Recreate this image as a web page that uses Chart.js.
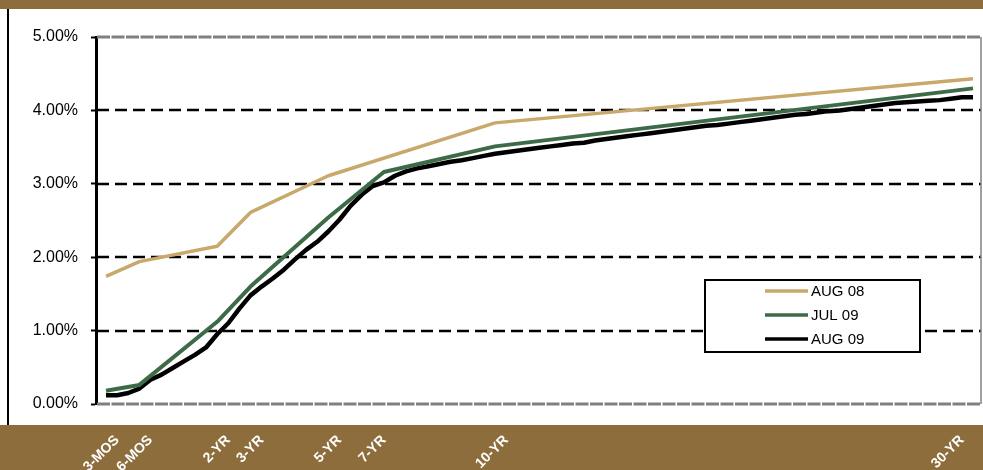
<!DOCTYPE html>
<html>
<head>
<meta charset="utf-8">
<script src="https://cdn.jsdelivr.net/npm/chart.js@4"></script>
<style>
  html, body { margin: 0; padding: 0; background: #fff; overflow: hidden; }
  #wrap { width: 983px; height: 470px; position: relative; }
</style>
</head>
<body>
<div id="wrap"><canvas id="curveChart"></canvas></div>
<script>
// Treasury yield curve, one slot per issue on the category axis
const tenorLabels = ['3-MOS', '6-MOS', '2-YR', '3-YR', '5-YR', '7-YR', '10-YR', '30-YR'];
const labelSlots = [1, 4, 11, 14, 21, 25, 36, 77];

const aug08Slots = [0, 3, 10, 13, 20, 35, 78];
const aug08 = [1.74, 1.94, 2.15, 2.61, 3.11, 3.83, 4.43];

const jul09Slots = [0, 3, 10, 13, 20, 25, 35, 78];
const jul09 = [0.18, 0.26, 1.12, 1.60, 2.54, 3.16, 3.51, 4.30];

// AUG 09 has a yield for every slot 0..78
const aug09 = [
  0.12, 0.12, 0.15, 0.21, 0.33, 0.40, 0.49, 0.58, 0.67, 0.77,
  0.95, 1.10, 1.30, 1.48, 1.60, 1.71, 1.83, 1.97, 2.10, 2.21,
  2.35, 2.51, 2.70, 2.85, 2.97, 3.02, 3.11, 3.17, 3.21, 3.24,
  3.27, 3.30, 3.32, 3.35, 3.38, 3.41, 3.43, 3.45, 3.47, 3.49,
  3.51, 3.53, 3.55, 3.56, 3.59, 3.61, 3.63, 3.65, 3.67, 3.69,
  3.71, 3.73, 3.75, 3.77, 3.79, 3.80, 3.82, 3.84, 3.86, 3.88,
  3.90, 3.92, 3.94, 3.95, 3.97, 3.99, 4.00, 4.02, 4.04, 4.06,
  4.08, 4.10, 4.11, 4.12, 4.13, 4.14, 4.16, 4.18, 4.18
];

const yTicks = [0, 1, 2, 3, 4, 5];

const BROWN = '#8c6d3b';
const TAN = '#c8a86b';
const GREEN = '#3d6b47';
const FONT = '"Liberation Sans", Arial, sans-serif';

function toPoints(slots, values) {
  return slots.map((s, i) => ({ x: s, y: values[i] }));
}

// brown bands, outer frame line, dashed grid
const framePlugin = {
  id: 'frame',
  beforeDraw(chart) {
    const ctx = chart.ctx;
    const { width, height } = chart;
    ctx.save();
    ctx.fillStyle = '#fff';
    ctx.fillRect(0, 0, width, height);
    ctx.fillStyle = BROWN;
    ctx.fillRect(0, 0, width, 9);
    ctx.fillRect(0, 425, width, height - 425);
    ctx.strokeStyle = '#000';
    ctx.lineWidth = 2;
    ctx.beginPath();
    ctx.moveTo(8, 9);
    ctx.lineTo(8, 425);
    ctx.stroke();
    ctx.restore();
  },
  beforeDatasetsDraw(chart) {
    const ctx = chart.ctx;
    const area = chart.chartArea;
    const y = chart.scales.y;
    ctx.save();
    y.ticks.forEach(t => {
      const py = Math.round(y.getPixelForValue(t.value));
      const edge = t.value === y.min || t.value === y.max;
      ctx.beginPath();
      ctx.lineWidth = edge ? 3 : 2.5;
      ctx.strokeStyle = edge ? '#808080' : '#000';
      ctx.setLineDash(edge ? [13, 1.5] : [12, 6]);
      ctx.moveTo(area.left + 1, py);
      ctx.lineTo(area.right, py);
      ctx.stroke();
    });
    ctx.setLineDash([]);
    ctx.strokeStyle = '#808080';
    ctx.lineWidth = 1.5;
    ctx.beginPath();
    ctx.moveTo(area.right, area.top);
    ctx.lineTo(area.right, area.bottom);
    ctx.stroke();
    ctx.restore();
  }
};

// boxed legend sitting inside the plot area
const boxLegendPlugin = {
  id: 'boxLegend',
  afterDatasetsDraw(chart) {
    const ctx = chart.ctx;
    const left = 705, top = 280, w = 215, h = 72;
    ctx.save();
    ctx.fillStyle = '#fff';
    ctx.fillRect(left, top, w, h);
    ctx.strokeStyle = '#000';
    ctx.lineWidth = 2;
    ctx.strokeRect(left, top, w, h);
    ctx.font = '15px ' + FONT;
    ctx.textBaseline = 'middle';
    ctx.fillStyle = '#000';
    chart.data.datasets.forEach((ds, i) => {
      const ry = top + 11 + i * 24;
      ctx.strokeStyle = ds.borderColor;
      ctx.lineWidth = 3.5;
      ctx.beginPath();
      ctx.moveTo(765, ry);
      ctx.lineTo(808, ry);
      ctx.stroke();
      ctx.fillText(ds.label, 811, ry + 1);
    });
    ctx.restore();
  }
};

function initCurveChart() {
  const ctx = document.getElementById('curveChart');

  new Chart(ctx, {
    type: 'line',
    data: {
      datasets: [
        {
          label: 'AUG 08',
          data: toPoints(aug08Slots, aug08),
          borderColor: TAN,
          borderWidth: 3.5,
          pointRadius: 0,
          tension: 0
        },
        {
          label: 'JUL 09',
          data: toPoints(jul09Slots, jul09),
          borderColor: GREEN,
          borderWidth: 4,
          pointRadius: 0,
          tension: 0
        },
        {
          label: 'AUG 09',
          data: toPoints(aug09.map((v, i) => i), aug09),
          borderColor: '#000',
          borderWidth: 4.5,
          pointRadius: 0,
          tension: 0
        }
      ]
    },
    options: {
      responsive: true,
      maintainAspectRatio: false,
      animation: false,
      borderJoinStyle: 'round',
      layout: {
        padding: { left: 0, right: 2, top: 37, bottom: 0 }
      },
      scales: {
        x: {
          type: 'linear',
          min: -0.9,
          max: 78.72,
          afterBuildTicks: scale => {
            scale.ticks = labelSlots.map(v => ({ value: v }));
          },
          afterFit: scale => {
            scale.height = 66;
            scale.paddingLeft = 0;
            scale.paddingRight = 0;
          },
          grid: { display: false, drawTicks: false },
          border: { display: false },
          ticks: {
            autoSkip: false,
            minRotation: 45,
            maxRotation: 45,
            padding: 28,
            color: '#fff',
            font: { family: FONT, size: 14, weight: 'bold' },
            callback: value => {
              const k = labelSlots.indexOf(value);
              return k >= 0 ? tenorLabels[k] : '';
            }
          }
        },
        y: {
          min: 0,
          max: 5,
          afterBuildTicks: scale => {
            scale.ticks = yTicks.map(v => ({ value: v }));
          },
          afterFit: scale => { scale.width = 96; },
          grid: {
            drawOnChartArea: false,
            drawTicks: true,
            tickLength: 5,
            tickColor: '#000',
            tickWidth: 2
          },
          border: { display: true, color: '#000', width: 3 },
          ticks: {
            padding: 13,
            color: '#000',
            font: { family: FONT, size: 16 },
            callback: v => v.toFixed(2) + '%'
          }
        }
      },
      plugins: {
        legend: { display: false },
        tooltip: { enabled: false }
      }
    },
    plugins: [framePlugin, boxLegendPlugin]
  });
}

document.addEventListener('DOMContentLoaded', initCurveChart);
</script>
</body>
</html>
